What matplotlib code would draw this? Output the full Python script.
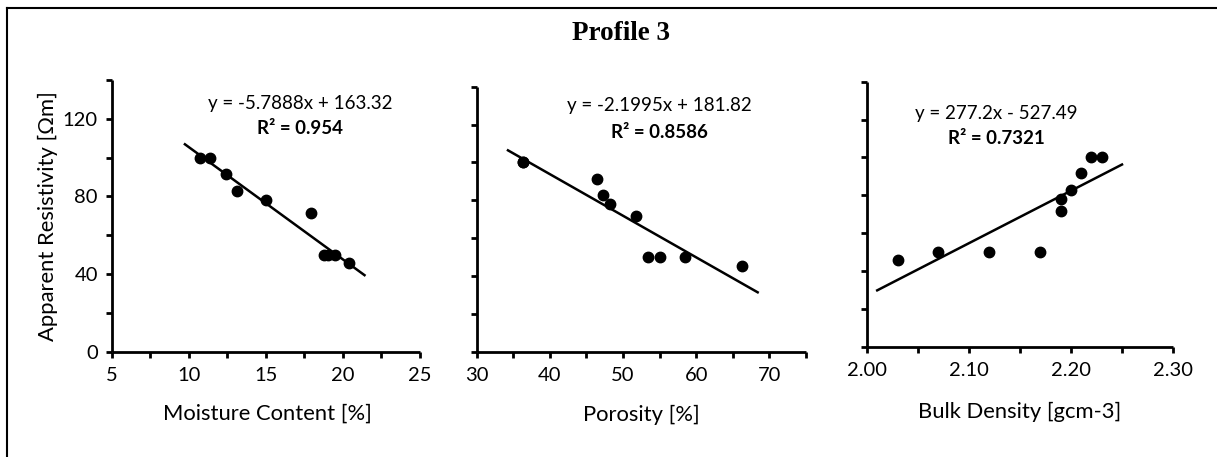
import matplotlib
matplotlib.use("Agg")
import matplotlib.pyplot as plt
from matplotlib.lines import Line2D
import numpy as np

# ---------------- data ----------------
resistivity = [100, 100, 91.5, 83, 78, 71.5, 50, 50, 50, 45.5]

moisture = [10.7, 11.4, 12.4, 13.1, 15.0, 17.9, 18.8, 19.0, 19.5, 20.4]
porosity = [36.4, 36.4, 46.5, 47.3, 48.2, 51.8, 53.4, 55.0, 58.5, 66.2]
density = [2.23, 2.22, 2.21, 2.20, 2.19, 2.19, 2.17, 2.12, 2.07, 2.03]

slopes = [-5.7888, -2.1995, 277.2]
intercepts = [163.32, 181.82, -527.49]
r2_values = ["0.954", "0.8586", "0.7321"]
eq_texts = ["y = -5.7888x + 163.32", "y = -2.1995x + 181.82", "y = 277.2x - 527.49"]
trend_ranges = [[9.75, 21.4], [34.3, 68.4], [2.01, 2.25]]

x_labels = ["Moisture Content [%]", "Porosity [%]", "Bulk Density [gcm-3]"]
y_label = "Apparent Resistivity [Ωm]"
title = "Profile 3"

x_limits = [(5, 25), (30, 75), (2.0, 2.3)]
x_major = [[5, 10, 15, 20, 25], [30, 40, 50, 60, 70], [2.0, 2.1, 2.2, 2.3]]
x_minor = [[7.5, 12.5, 17.5, 22.5], [35, 45, 55, 65, 75], [2.05, 2.15, 2.25]]
x_ticklabels = [["5", "10", "15", "20", "25"], ["30", "40", "50", "60", "70"],
                ["2.00", "2.10", "2.20", "2.30"]]
y_major = [0, 40, 80, 120]
y_minor = [20, 60, 100, 140]

# ---------------- layout ----------------
W, H = 1217, 457
fig = plt.figure(figsize=(W / 100, H / 100), dpi=100)
FONT = "Lato"

def px_axes(left, right, top, bottom):
    return fig.add_axes([left / W, (H - bottom) / H, (right - left) / W, (bottom - top) / H])

boxes = [(111.7, 420, 80, 351.7), (476.5, 806, 86.7, 351.7), (867, 1173, 81.7, 346.5)]
xs_all = [moisture, porosity, density]
eq_pos = [(300, 103, 128), (659, 106, 132), (996, 113, 138)]
xlabel_pos = [(267, 414), (641, 415), (1020, 412)]

for i, (l, r, t, b) in enumerate(boxes):
    ax = px_axes(l, r, t, b)
    ax.set_xlim(*x_limits[i])
    ax.set_ylim(0, 140)
    for s in ["top", "right"]:
        ax.spines[s].set_visible(False)
    for s in ["left", "bottom"]:
        ax.spines[s].set_linewidth(2.0)
        ax.spines[s].set_capstyle("butt")
    ax.set_xticks(x_major[i])
    ax.set_xticks(x_minor[i], minor=True)
    ax.set_xticklabels(x_ticklabels[i], fontfamily=FONT, fontsize=14.5)
    ax.set_yticks(y_major)
    ax.set_yticks(y_minor, minor=True)
    if i == 0:
        ax.set_yticklabels([str(v) for v in y_major], fontfamily=FONT, fontsize=14.5)
    else:
        ax.set_yticklabels([])
    ax.tick_params(axis="both", which="both", direction="out", width=2.0, length=4, colors="black")
    ax.tick_params(axis="x", which="major", pad=7)
    ax.tick_params(axis="y", which="major", pad=6)
    ax.set_facecolor("none")

    ax.plot(xs_all[i], resistivity, "o", color="black", markersize=7.5, clip_on=False, zorder=3)
    tx = np.array(trend_ranges[i])
    ax.plot(tx, slopes[i] * tx + intercepts[i], color="black", linewidth=1.8, zorder=2)

    ex, ey, ry = eq_pos[i]
    fig.text(ex / W, 1 - ey / H, eq_texts[i], ha="center", va="center",
             fontfamily=FONT, fontsize=13.5)
    fig.text(ex / W, 1 - ry / H, "R² = " + r2_values[i], ha="center", va="center",
             fontfamily=FONT, fontsize=13.5, fontweight="bold")
    lx, ly = xlabel_pos[i]
    fig.text(lx / W, 1 - ly / H, x_labels[i], ha="center", va="center",
             fontfamily=FONT, fontsize=15.8)

fig.text(48 / W, 1 - 216 / H, y_label, rotation=90, ha="center", va="center",
         fontfamily=FONT, fontsize=15.8)
fig.text(621 / W, 1 - 33 / H, title, ha="center", va="center",
         fontfamily="Liberation Serif", fontsize=19.5, fontweight="bold")

# outer frame (left and top edges visible)
fig.add_artist(Line2D([6.5 / W, 6.5 / W], [0, 1 - 8 / H], color="black", linewidth=1.5,
                      transform=fig.transFigure))
fig.add_artist(Line2D([6.5 / W, 1], [1 - 8 / H, 1 - 8 / H], color="black", linewidth=1.5,
                      transform=fig.transFigure))

fig.savefig("out.png", dpi=100)
